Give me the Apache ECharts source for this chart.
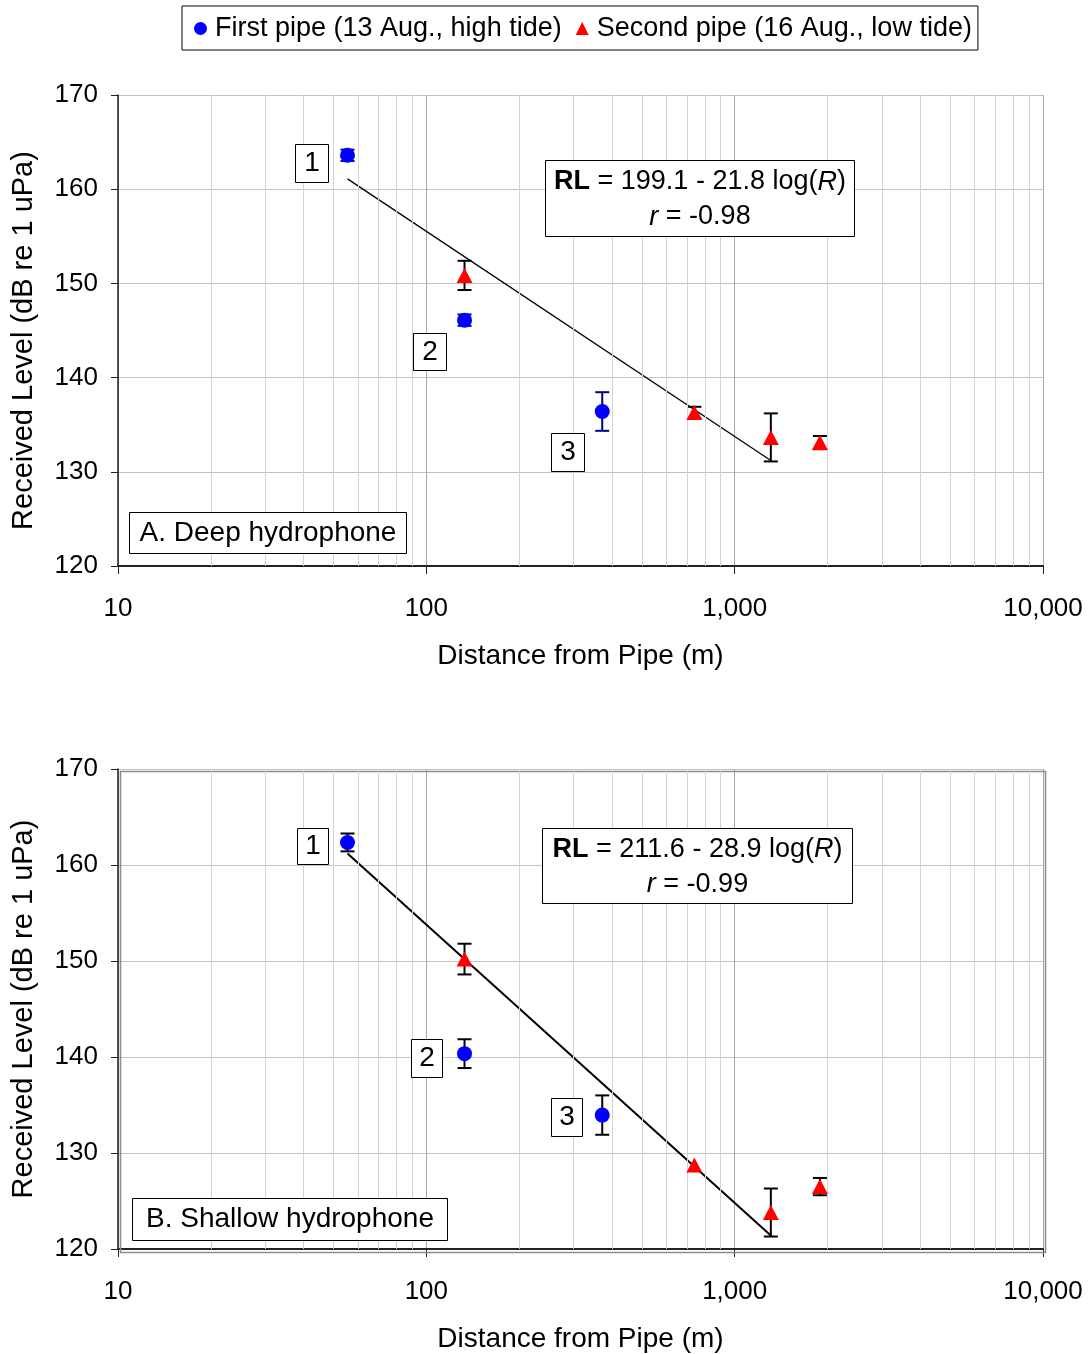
<!DOCTYPE html>
<html><head><meta charset="utf-8">
<script src="https://cdn.jsdelivr.net/npm/echarts@6/dist/echarts.min.js"></script>
<style>html,body{margin:0;padding:0;background:#fff}#c{width:1090px;height:1354px}</style>
</head><body><div id="c"></div>
<script>
// ---- data ----
const seriesNames = ['First pipe (13 Aug., high tide)', 'Second pipe (16 Aug., low tide)'];
const distFirst = [55.5, 133, 372];
const distSecond = [133, 740, 1310, 1890];
const deepFirst = [163.6, 146.1, 136.4];
const deepFirstErr = [0.6, 0.6, 2.05];
const deepSecond = [150.85, 136.3, 133.65, 133.1];
const deepSecondErr = [1.55, 0.6, 2.55, 0.7];
const shallowFirst = [162.35, 140.35, 133.95];
const shallowFirstErr = [0.93, 1.5, 2.05];
const shallowSecond = [150.2, 128.75, 123.8, 126.5];
const shallowSecondErr = [1.6, 0, 2.5, 0.9];
const fitX = [55.5, 1310];
const deepFitY = [161.1, 131.2];
const shallowFitY = [161.2, 121.4];
const minorX = [20,30,40,50,60,70,80,90,200,300,400,500,600,700,800,900,2000,3000,4000,5000,6000,7000,8000,9000];
const yMin = 120, yMax = 170, yStep = 10;
const xMin = 10, xMax = 10000;

const FONT = '"Liberation Sans", Arial, sans-serif';

function pts(xs, ys){ return xs.map((x,i)=>[x, ys[i]]); }
function errs(xs, ys, es){ return xs.map((x,i)=>[x, ys[i]-es[i], ys[i]+es[i]]); }

function errRender(color){
  return function(params, api){
    const x = api.value(0), lo = api.value(1), hi = api.value(2);
    if (hi - lo <= 0) return null;
    const p1 = api.coord([x, hi]), p2 = api.coord([x, lo]);
    const hw = 7;
    const st = {stroke: color, lineWidth: 2, fill: null};
    return {type:'group', children:[
      {type:'line', shape:{x1:p1[0], y1:p1[1], x2:p2[0], y2:p2[1]}, style: st},
      {type:'line', shape:{x1:p1[0]-hw, y1:p1[1], x2:p1[0]+hw, y2:p1[1]}, style: st},
      {type:'line', shape:{x1:p2[0]-hw, y1:p2[1], x2:p2[0]+hw, y2:p2[1]}, style: st}
    ]};
  };
}

const grids = [
  {left:118, top:95, width:925, height:471},
  {left:118, top:769, width:925, height:481}
];

function xAxisFor(i){
  return {
    gridIndex:i, type:'log', logBase:10, min:xMin, max:xMax,
    name:'Distance from Pipe (m)', nameLocation:'middle', nameGap:76,
    nameTextStyle:{fontFamily:FONT, fontSize:28, color:'#000'},
    axisLine:{show:true, onZero:false, lineStyle:{color:'#222', width:2}},
    axisTick:{show:true, inside:false, length:8, lineStyle:{color:'#222', width:1}},
    axisLabel:{margin:30, fontFamily:FONT, fontSize:26, color:'#000',
      formatter: v => Number(v).toLocaleString('en-US')},
    splitLine:{show:true, lineStyle:{color:'#a8a8a8', width:1}},
    minorTick:{show:false}, minorSplitLine:{show:false}
  };
}
function yAxisFor(i){
  return {
    gridIndex:i, type:'value', min:yMin, max:yMax, interval:yStep,
    name:'Received Level (dB re 1 uPa)', nameLocation:'middle', nameGap:80,
    nameTextStyle:{fontFamily:FONT, fontSize:29, color:'#000', padding: i === 0 ? [0,20,0,0] : [0,0,0,0]},
    axisLine:{show:true, lineStyle:{color:'#222', width:1.5}},
    axisTick:{show:true, inside:false, length:7, lineStyle:{color:'#222'}},
    axisLabel:{margin:20, fontFamily:FONT, fontSize:26, color:'#000'},
    splitLine:{show:true, lineStyle:{color:'#c4c4c4', width:1}}
  };
}

function panelSeries(i, firstY, firstE, secondY, secondE, fitY, fitWidth, firstErrColor, secondErrColor){
  return [
    {type:'scatter', xAxisIndex:i, yAxisIndex:i, data:[], z:1, silent:true,
      markLine:{silent:true, symbol:['none','none'], label:{show:false},
        lineStyle:{color:'#d2d2d2', width:1, type:'solid'},
        data: minorX.map(v=>({xAxis:v}))}},
    {type:'line', xAxisIndex:i, yAxisIndex:i, data:pts(fitX, fitY), symbol:'none', z:3,
      lineStyle:{color:'#000', width:fitWidth}, silent:true},
    {type:'custom', xAxisIndex:i, yAxisIndex:i, data:errs(distFirst, firstY, firstE),
      renderItem: errRender(firstErrColor), encode:{x:0, y:[1,2]}, z:4, silent:true},
    {type:'custom', xAxisIndex:i, yAxisIndex:i, data:errs(distSecond, secondY, secondE),
      renderItem: errRender(secondErrColor), encode:{x:0, y:[1,2]}, z:4, silent:true},
    {type:'scatter', name:seriesNames[0], xAxisIndex:i, yAxisIndex:i, data:pts(distFirst, firstY),
      symbol:'circle', symbolSize:15, itemStyle:{color:'#0000ff', opacity:1}, z:5},
    {type:'scatter', name:seriesNames[1], xAxisIndex:i, yAxisIndex:i, data:pts(distSecond, secondY),
      symbol:'triangle', symbolSize:[16,15], itemStyle:{color:'#ff0000', opacity:1}, z:5}
  ];
}

function boxText(x, y, w, h, text, fs){
  return {type:'group', left:x, top:y, z:100, children:[
    {type:'rect', z:100, shape:{x:0, y:0, width:w, height:h}, style:{fill:'#fff', stroke:'#000', lineWidth:1}},
    {type:'text', z:101, x:w/2, y:h/2, style:{text:text, fontFamily:FONT, fontSize:fs, fill:'#000', align:'center', verticalAlign:'middle'}}
  ]};
}
function eqBox(x, y, w, h, line1a, line2b){
  return {type:'group', left:x, top:y, z:100, children:[
    {type:'rect', z:100, shape:{x:0, y:0, width:w, height:h}, style:{fill:'#fff', stroke:'#000', lineWidth:1}},
    {type:'text', z:101, x:w/2, y:h/2 + 1, style:{
      text:'{b|RL} = ' + line1a + ' log({i|R})\n{i|r} = ' + line2b,
      fontFamily:FONT, fontSize:27, fill:'#000', align:'center', verticalAlign:'middle', lineHeight:35,
      rich:{b:{fontWeight:'bold', fontFamily:FONT, fontSize:27, lineHeight:35},
            i:{fontStyle:'italic', fontFamily:FONT, fontSize:27, lineHeight:35}}
    }}
  ]};
}

const option = {
  backgroundColor:'#fff',
  animation:false,
  legend:{
    left:182, top:6, orient:'horizontal',
    data:[{name:seriesNames[0], icon:'circle'}, {name:seriesNames[1], icon:'triangle'}],
    itemWidth:13, itemHeight:13, itemGap:14,
    padding:[9,6,8,12], borderColor:'#000', borderWidth:1,
    textStyle:{fontFamily:FONT, fontSize:27, color:'#000', padding:[0,0,0,3]}
  },
  grid: grids,
  xAxis:[xAxisFor(0), xAxisFor(1)],
  yAxis:[yAxisFor(0), yAxisFor(1)],
  series:[
    ...panelSeries(0, deepFirst, deepFirstErr, deepSecond, deepSecondErr, deepFitY, 1.3, '#000080', '#000'),
    ...panelSeries(1, shallowFirst, shallowFirstErr, shallowSecond, shallowSecondErr, shallowFitY, 2, '#000', '#000')
  ],
  graphic:[
    {type:'rect', left:118, top:769, z:2, silent:true, shape:{x:0,y:0,width:925,height:481}, style:{fill:null, stroke:'#8c8c8c', lineWidth:1.5}},
    boxText(295, 144, 33, 38, '1', 28),
    boxText(413, 333, 33, 37, '2', 28),
    boxText(551, 433, 33, 38, '3', 28),
    boxText(297, 828, 31, 36, '1', 28),
    boxText(411, 1039, 31, 38, '2', 28),
    boxText(551, 1098, 31, 38, '3', 28),
    boxText(129, 512, 277, 41, 'A. Deep hydrophone', 28),
    boxText(132, 1198, 315, 42, 'B. Shallow hydrophone', 28),
    eqBox(545, 160, 309, 76, '199.1 - 21.8', '-0.98'),
    eqBox(542, 828, 310, 75, '211.6 - 28.9', '-0.99')
  ]
};

const chart = echarts.init(document.getElementById('c'), null, {renderer:'canvas'});
chart.setOption(option);
</script>
</body></html>
